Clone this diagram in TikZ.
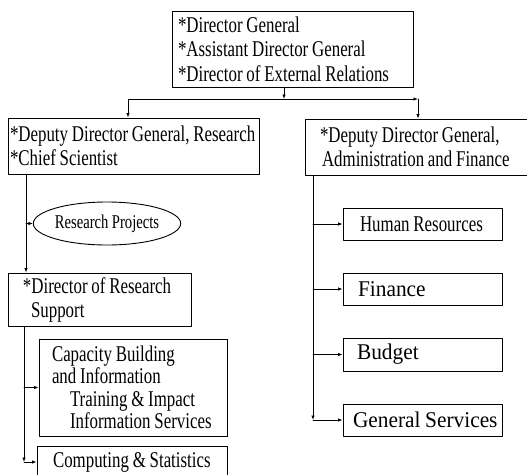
\documentclass[tikz,border=0pt]{standalone}
\usepackage{fontspec}
\setmainfont{Liberation Serif}[FakeStretch=0.75]
\newfontfamily\wideserif{Liberation Serif}[FakeStretch=0.95]
\usetikzlibrary{arrows.meta, shapes.geometric}

% left margin of a line inside a box
\newcommand\gap[1]{\hspace*{#1}}

\tikzset{
    tight/.style={execute at begin node={\spaceskip=#1 plus 1pt minus 0.5pt\hyphenpenalty=10000\relax}},
    box/.style={draw, line width=0.9pt, inner sep=0pt, align=left, tight=3.8pt, font=\fontsize{22.5}{24}\selectfont},
    bigbox/.style={box, tight=4.5pt, font=\wideserif\fontsize{22.5}{26}\selectfont},
    arr/.style={line width=0.8pt, -{Latex[length=4.5pt,width=3.5pt]}},
}

\begin{document}
\begin{tikzpicture}[x=1pt,y=-1pt,line cap=round,line join=round]
    \path[use as bounding box, clip] (0,0) rectangle (527,474);

    % head office
    \node[box, text width=241pt, minimum height=76pt, font=\fontsize{22.5}{24.5}\selectfont] (dg) at (292.5,49)
        {\gap{6pt}*Director General\\\gap{6pt}*Assistant Director General\\\gap{6pt}*Director of External Relations};

    % the two deputies
    \node[box, text width=251pt, minimum height=56pt] (ddgr) at (133.5,146)
        {\gap{2pt}*Deputy Director General, Research\\\gap{2pt}*Chief Scientist};
    \node[box, text width=235pt, minimum height=56pt] (ddga) at (422.5,147)
        {\gap{15pt}*Deputy Director General,\\\gap{17pt}Administration and Finance};

    % research side
    \node[ellipse, draw, line width=0.9pt, inner sep=0pt, minimum width=134pt, minimum height=43pt,
          tight=3.5pt, font=\fontsize{19.5}{20}\selectfont] (proj) at (107,223.5) {Research Projects};
    \node[box, text width=183pt, minimum height=53pt] (drs) at (99.5,299.5)
        {\gap{15pt}*Director of Research\\\gap{23pt}Support};
    \node[box, text width=188pt, minimum height=97pt, font=\fontsize{22.5}{22.5}\selectfont] (cap) at (133,387.5)
        {\gap{13pt}Capacity Building\\\gap{13pt}and Information\\\gap{31pt}Training \& Impact\\\gap{31pt}Information Services};
    \node[box, text width=190pt, minimum height=32pt] (comp) at (132,462)
        {\gap{16pt}Computing \& Statistics};

    % administration side
    \node[box, text width=159pt, minimum height=32pt] (hr) at (422.5,224) {\gap{17pt}Human Resources};
    \node[bigbox, text width=159pt, minimum height=32pt] (fin) at (422.5,289) {\gap{15pt}Finance};
    \node[bigbox, text width=159pt, minimum height=33pt] (bud) at (422.5,354.5) {\gap{14pt}Budget};
    \node[bigbox, text width=159pt, minimum height=32pt] (gs) at (422.5,420) {\gap{10pt}General Services};

    % split under the head office
    \coordinate (fork) at (284,99);
    \coordinate (lturn) at (128,99);
    \coordinate (rturn) at (418,99);
    \draw[arr] (dg.south -| fork) -- (fork);
    \draw[arr] (fork) -- (lturn) -- (lturn |- ddgr.north);
    \draw[arr] (fork) -- (rturn);
    \draw[arr] (rturn) -- (rturn |- ddga.north);

    % spines
    \coordinate (spineA) at (26,0);
    \coordinate (spineB) at (24,0);
    \coordinate (spineC) at (313,0);

    \draw[arr] (ddgr.south -| spineA) -- (drs.north -| spineA);
    \draw[arr] (proj.west -| spineA) -- (proj.west);

    \draw[arr] (drs.south -| spineB) -- (comp.west -| spineB);
    \foreach \target in {cap, comp} {
        \draw[arr] (\target.west -| spineB) -- (\target.west);
    }

    \draw[arr] (ddga.south -| spineC) -- (gs.west -| spineC);
    \foreach \target in {hr, fin, bud, gs} {
        \draw[arr] (\target.west -| spineC) -- (\target.west);
    }
\end{tikzpicture}
\end{document}
